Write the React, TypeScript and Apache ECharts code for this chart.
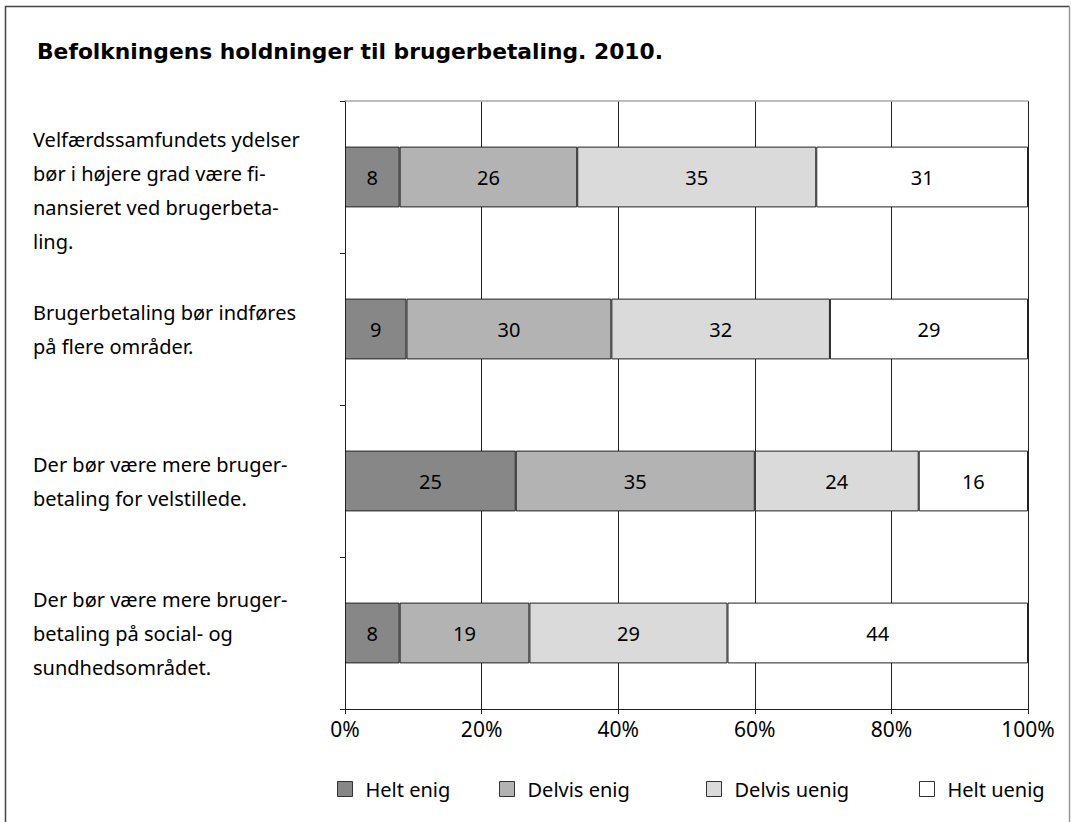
import React, { useEffect, useRef } from "react";
import * as echarts from "echarts";

const categories = [
  "Velfærdssamfundets ydelser\nbør i højere grad være fi-\nnansieret ved brugerbeta-\nling.",
  "Brugerbetaling bør indføres\npå flere områder.",
  "Der bør være mere bruger-\nbetaling for velstillede.",
  "Der bør være mere bruger-\nbetaling på social- og\nsundhedsområdet.",
];
const seriesNames = ["Helt enig", "Delvis enig", "Delvis uenig", "Helt uenig"];
const heltEnig = [8, 9, 25, 8];
const delvisEnig = [26, 30, 35, 19];
const delvisUenig = [35, 32, 24, 29];
const heltUenig = [31, 29, 16, 44];
const colors = ["#878787", "#b3b3b3", "#dadadb", "#ffffff"];
const legendX = [337, 499, 706, 919];

const FONT = "Noto Sans";
const FS = 20;

export default function App() {
  const ref = useRef<HTMLDivElement>(null);
  useEffect(() => {
    if (!ref.current) return;
    const chart = echarts.init(ref.current, undefined, { renderer: "svg" });
    const values = [heltEnig, delvisEnig, delvisUenig, heltUenig];
    chart.setOption({
      animation: false,
      backgroundColor: "#ffffff",
      textStyle: { fontFamily: FONT },
      title: {
        text: "Befolkningens holdninger til brugerbetaling. 2010.",
        left: 37,
        top: 40,
        padding: 0,
        textStyle: { fontFamily: "DejaVu Sans", fontSize: 21.8, fontWeight: "bold", color: "#000" },
      },
      graphic: [
        {
          type: "polyline",
          shape: { points: [[5.5, 822], [5.5, 6.5], [1069.5, 6.5]] },
          style: { stroke: "#444", lineWidth: 1.5, fill: null },
        },
        {
          type: "line",
          shape: { x1: 1069.5, y1: 6.5, x2: 1069.5, y2: 822 },
          style: { stroke: "#999", lineWidth: 1.5 },
        },
      ],
      legend: seriesNames.map((n, i) => ({
        data: [n],
        left: legendX[i],
        top: 779,
        padding: 0,
        icon: "rect",
        itemWidth: 15,
        itemHeight: 15,
        itemStyle: { borderColor: "#333", borderWidth: 1 },
        textStyle: { fontFamily: FONT, fontSize: FS, color: "#000", padding: [0, 0, 0, 8] },
        selectedMode: false,
      })),
      grid: {
        left: 345,
        right: 43,
        top: 101,
        bottom: 113,
        containLabel: false,
        outerBoundsMode: "none",
      },
      xAxis: [
        {
          type: "value",
          min: 0,
          max: 100,
          interval: 20,
          position: "bottom",
          axisLine: { show: true, lineStyle: { color: "#222", width: 1 } },
          axisTick: { show: true, length: 5, lineStyle: { color: "#222" } },
          splitLine: { show: true, lineStyle: { color: "#222", width: 1 } },
          axisLabel: {
            formatter: "{value}%",
            fontFamily: FONT,
            fontSize: 21,
            color: "#000",
            margin: 9,
          },
        },
        {
          type: "value",
          min: 0,
          max: 100,
          position: "top",
          axisLine: { show: true, lineStyle: { color: "#aaa", width: 1.5 } },
          axisTick: { show: false },
          axisLabel: { show: false },
          splitLine: { show: false },
        },
      ],
      yAxis: {
        type: "category",
        data: categories,
        inverse: true,
        axisLine: { show: true, lineStyle: { color: "#222", width: 1 } },
        axisTick: { show: true, length: 5, lineStyle: { color: "#222" } },
        splitLine: { show: false },
        axisLabel: {
          interval: 0,
          align: "left",
          margin: 312,
          fontFamily: FONT,
          fontSize: FS,
          lineHeight: 34,
          color: "#000",
          formatter: (value: string, index: number) =>
            index === 0 ? "{pad| }\n" + value : value,
          rich: {
            pad: { fontSize: 1, lineHeight: 26, height: 26 },
          },
        },
      },
      series: seriesNames.map((n, i) => ({
        name: n,
        type: "bar",
        stack: "total",
        xAxisIndex: 0,
        barWidth: "40%",
        data: values[i],
        itemStyle: { color: colors[i], borderColor: "#222", borderWidth: 1 },
        label: {
          show: true,
          position: "inside",
          fontFamily: FONT,
          fontSize: FS,
          color: "#000",
        },
      })),
    });
    return () => chart.dispose();
  }, []);
  return (
    <div
      ref={ref}
      style={{ position: "fixed", left: 0, top: 0, width: 1071, height: 822 }}
    />
  );
}
